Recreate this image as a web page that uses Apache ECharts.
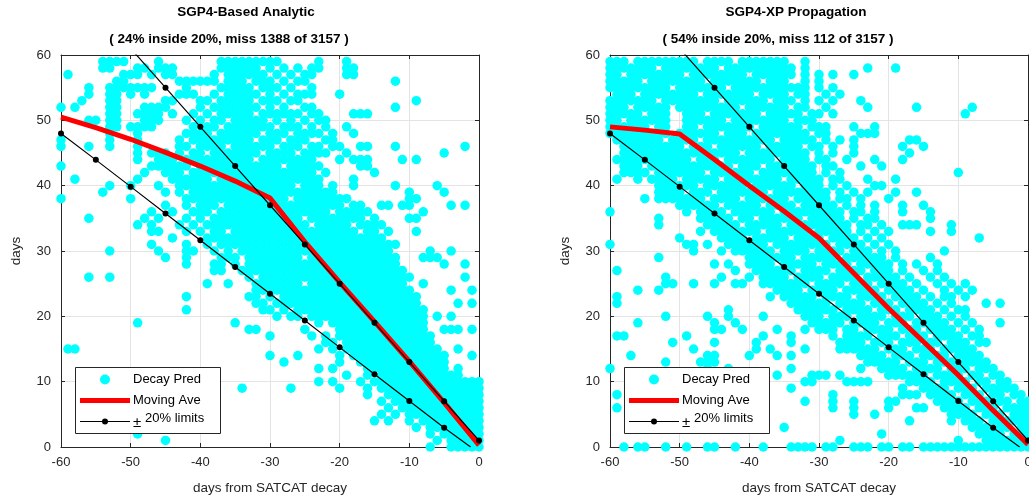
<!DOCTYPE html>
<html>
<head>
<meta charset="utf-8">
<script src="https://cdn.jsdelivr.net/npm/echarts@6/dist/echarts.min.js"></script>
<style>
  html, body { margin: 0; padding: 0; background: #ffffff; }
  #chart { width: 1029px; height: 497px; }
</style>
</head>
<body>
<div id="chart"></div>
<script>
// ---- panel text ----
const panelTitles = ['SGP4-Based Analytic', 'SGP4-XP Propagation'];
const panelStats = ['( 24% inside 20%, miss 1388 of 3157 )', '( 54% inside 20%, miss 112 of 3157 )'];
const seriesNames = ['Decay Pred', 'Moving Ave', '\u00b120% limits'];
const xAxisName = 'days from SATCAT decay';
const yAxisName = 'days';

// ---- axis ranges ----
const dayMin = -60, dayMax = 0, dayStep = 10;
const predMin = 0, predMax = 60, predStep = 10;

// ---- moving average of predicted lifetime (every 5 days) ----
const aveDays = [-60, -55, -50, -45, -40, -35, -30, -25, -20, -15, -10, -5, 0];
const aveAnalytic = [50.5, 48.9, 47.1, 45.1, 43.0, 40.7, 38.1, 31.4, 25.2, 19.2, 13.1, 6.8, 0.3];
const aveXP = [49.0, 48.5, 47.9, 44.0, 40.0, 36.1, 32.0, 26.6, 21.2, 16.1, 11.0, 5.6, 0.4];

// ---- +/-20% limit curves ----
const upperDays = [-60, -55, -50, -45, -40, -35, -30, -25, -20, -15, -10, -5, 0];
const upperLimit = [73, 67, 61, 55, 49, 43, 37, 31, 25, 19, 13, 7, 1];
const lowerDays = [-60, -55, -50, -45, -40, -35, -30, -25, -20, -15, -10, -5, -1.2];
const lowerLimit = [48, 43.95, 39.85, 35.75, 31.65, 27.55, 23.45, 19.35, 15.25, 11.15, 7.05, 2.95, 0];

// ---- decay predictions on the (day, days) integer lattice ----
// one string per predicted-days row, from 59 down to 0;
// one cell per day from -60 to 0, 'o' = at least one prediction
const predTopDays = 59;
const predFirstDay = -60;

const predAnalytic = [
  "......oooo|....o.....|...ooooooo|oo.....o..|.o........|..........|.",
  "......oo..|.oo.ooo...|...oooooo.|o.o.o.oo..|.oo.......|..........|.",
  ".o.......o|oo.o.oo...|..o.oooooo|.o.o.oo...|.oo.......|..........|.",
  "........oo|.......ooo|ooo.ooo.oo|o.o.oo....|........o.|..........|.",
  "....o..ooo|oooo....o.|...ooooo.o|oo.o..o...|..........|..........|.",
  "....o..oo.|o.o....ooo|..o.ooooo.|o.o.ooo...|o.........|..........|.",
  "...o...oo.|.....oo...|oo.ooooo.o|oo.oo.....|..........|.o........|.",
  "o.o....oo.|..oooo....|o.ooooooo.|o.o..oo...|........o.|..........|.",
  ".......oo.|.oooo.o..o|.o.ooooo.o|ooooo.oo..|..ooo.....|..........|.",
  "....oo.oo.|..ooo...o.|o.oo.ooooo|.o.o.o.oo.|..........|..........|.",
  ".......oo.|oooo.....o|.oo.oooooo|o.ooo.o.o.|.o........|..........|.",
  ".......o..|.o......oo|oo.oooooo.|ooo.oooo.o|..o.......|..........|.",
  "o......o..|.o.....o.o|oooooooo.o|oo.ooo..oo|..........|..........|.",
  "o...o..o..|.o.....oo.|oooo.ooooo|o.ooo.oo.o|o..oo...o.|........o.|.",
  "..........|.o.ooo.o.o|o.ooooooo.|oooo.oooo.|.o........|.....o....|.",
  "..........|.o..ooo.oo|oooooooo.o|ooooooo...|o.ooo....o|.o........|.",
  "o.........|...oooooo.|oooooooooo|oo.ooooo..|...oo.....|..........|.",
  "..........|..o..ooo.o|oooooooooo|ooooooo.o.|.....o....|..........|.",
  "..o.......|.o....oooo|oo.ooooooo|oooooooo..|..o.......|..........|.",
  ".......o..|o...o..ooo|oooooooooo|oooo.ooo.o|..o.....o.|....o.....|.",
  "......o...|.....o.o.o|oooooooooo|oooooooooo|..........|o....o....|.",
  "o.........|o.......oo|oooooooooo|ooo.oooooo|oo........|oo........|.",
  "..........|.....o..o.|ooo.oooooo|oooooooooo|o.oo..oo.o|o.....o.o.|.",
  "..........|...o..o..o|oo.ooooooo|ooooooooo.|ooooo.....|..o.......|.",
  "....o.....|..o.o...o.|o.oooooooo|ooooo.oooo|oooo.o....|oo........|.",
  "..........|.o.o...o.o|.ooooooooo|oooooo.ooo|oo.oooo...|..........|.",
  "..........|...oo...o.|o.oo.ooooo|oooooooooo|ooo.oo.o..|.o........|.",
  "..........|......o...|.ooooooooo|oooooooooo|ooooooo...|..........|.",
  "..........|...o....o.|.o.ooooooo|oooooooooo|ooooooooo.|..........|.",
  ".......o..|....o...oo|..o.o.oooo|oooooooooo|oooooooo..|...o..o...|.",
  "..........|.....o..o.|...ooo.ooo|ooooo.oooo|ooooooooo.|..ooo.....|.",
  "..........|........o.|..oo.o.ooo|oooooooooo|ooooooooo.|.....o..o.|.",
  "..........|..........|..oo..oooo|oooooooooo|oooooooooo|..........|.",
  "....o..o..|..........|.......o.o|oooooooooo|oooooooooo|o.......o.|.",
  "..........|..........|.o..o...oo|ooooo.oooo|oooooooooo|..o.......|.",
  "..........|..........|........oo|oooooooooo|oooooooooo|o.....o..o|.",
  "..........|........o.|.......oo.|o.oooooooo|oooooooooo|oo........|.",
  "..........|..........|........oo|.ooooooooo|oooooooooo|oo.....o.o|.",
  "..........|........o.|.........o|o.o.oooooo|oooooooooo|ooo.......|.",
  "..........|..........|..........|.o.oo.oooo|oooooooooo|ooo.o.o...|.",
  "..........|.o........|.....o....|.......o.o|oooooooooo|ooo.......|.",
  "..........|..........|.......oo.|.....o....|oooooooooo|ooo..ooo.o|.",
  "..........|..........|..........|o.....o.o.|oooooooooo|oooo......|.",
  "..........|..........|..........|........oo|.ooooooooo|oooo......|.",
  ".oo.......|..........|..........|.......o.o|.ooooooooo|ooooo..o..|.",
  "..........|..........|..........|o...o.....|o.oooooooo|oooooo...o|.",
  "..........|..........|..........|..o.......|o..ooooooo|oooooo....|.",
  "..........|..........|..........|.......o.o|....oooooo|oooooo.o..|.",
  "..........|..........|..........|..........|.o..o.oooo|oooooooo..|.",
  "..........|..........|..........|.......o.o|...o.ooooo|oooooooooo|o",
  "..........|..........|......o...|...o......|o...o.oooo|oooooooooo|o",
  "..........|..........|..........|..........|....o..ooo|oooooooooo|o",
  "..........|..........|..........|..........|......o.oo|oooooooooo|o",
  "..........|..........|..........|..........|.......o.o|oooooooooo|o",
  "..........|..........|..........|..........|......o.o.|oooooooooo|o",
  "..........|..........|..........|..........|.....o.o..|o.oooooooo|o",
  "..........|..........|..........|..........|..........|.o.ooooooo|o",
  "..........|.o........|..........|..........|..........|...o.ooooo|o",
  "..........|.....o....|..........|..........|..........|....o.oooo|o",
  "..........|..........|..........|..........|..........|...o..oooo|o"
];

const predXP = [
  "ooo.oooooo|ooo.oooo.o|oooooo..o.|..........|..........|..........|.",
  "ooooooo.oo|oooooo.ooo|ooooooo.o.|.......o..|.o........|..........|.",
  "oo.ooooooo|o.oooooooo|.oooooo.o.|o.o..o....|..........|..........|.",
  "ooooo.oooo|oooo.ooooo|oo.ooo..o.|o.........|..........|..........|.",
  "ooooooooo.|ooooooo.oo|ooooooooo.|o.o.......|..........|..........|.",
  ".ooo.ooooo|ooo.oooooo|o.oooo.oo.|.o.o......|..........|..........|.",
  "ooooooo.oo|oooooo.ooo|ooo.ooo.o.|o.o...o...|..........|..........|.",
  "ooo.ooooo.|ooooooooo.|oooooo.oo.|.o.....o..|....o.....|..o.......|.",
  "ooooo.ooo.|.ooo.ooooo|oo.ooooo.o|o.o.......|..........|.o........|.",
  "oo.oooooo.|.oooooo.oo|oooooo.ooo|..........|..........|..........|.",
  "oooooo.oo.|.oo.oooooo|o.oooooo.o|oo...o..o.|..........|..........|.",
  "ooooooooo.|oooooo.ooo|.oooooooo.|oo....ooo.|..........|..........|.",
  ".ooooooo.o|ooo.oooooo|oooo.ooooo|.o.o.o....|...oo.....|..........|.",
  "..oooooooo|o.ooo.oooo|oo.ooooo.o|o.o..o....|..o..o....|..........|.",
  "..oooooooo|ooooooooo.|ooooooooo.|o.o..o....|...o......|..........|.",
  ".ooooooooo|oo.ooo.ooo|oooo.oooo.|oo..o...o.|..o.......|..........|.",
  "..ooo.oooo|oooooooo.o|oo.ooooooo|.oo...o..o|..........|..........|.",
  "..oooo.ooo|oooo.ooooo|o.oooooooo|.o.o......|..........|o.........|.",
  ".o..o.oooo|.ooooo.ooo|ooooo.oooo|o.oo...o..|.o........|..........|.",
  ".......ooo|ooo.oooooo|.oooooo.oo|o.o.o...oo|..........|..........|.",
  ".......ooo|o.ooo.oooo|ooo.oooooo|oo.o.o.o..|.o..o.....|..........|.",
  ".....o.ooo|oooo.oooo.|oooooo.ooo|oo.oo.o...|o.........|..........|.",
  "..........|oooooo.ooo|oo.oooo.oo|ooo.o.o.o.|..o..o....|..........|.",
  "o.........|.o.oooo.oo|oooo.ooooo|oooo.oo.o.|..o...o...|..........|.",
  ".......o..|...ooooo.o|o.oooooo.o|oooo.o.oo.|......o...|..........|.",
  ".......o..|....ooooo.|ooooo.oooo|ooooo.oo.o|..ooo....o|..........|.",
  "..........|...o.ooooo|oo.oooooo.|ooooo.o.o.|o.....o..o|..........|.",
  "..........|o.....oooo|.ooooo.ooo|o.oooo.o.o|..........|...o......|.",
  "o.........|.oo.o..ooo|ooo.oooooo|oo.oooo.o.|o.........|..........|.",
  "..........|..o...o.oo|oooo.oooo.|oooo.ooo.o|.o......o.|..........|.",
  ".......o..|..........|ooooooo.oo|ooo.oooooo|.o....o...|..........|.",
  "..........|.....o.o..|oooo.ooooo|.oooo.oooo|o.o.o..o..|..........|.",
  ".o........|........o.|.oooooo.oo|oo.oooo.oo|o.o..o.o..|..........|.",
  "........o.|......o...|o.oooo.ooo|o.oooo.ooo|oo.o..o.o.|..........|.",
  "........oo|..o..o..oo|..ooooooo.|oooo.ooo.o|ooo.o..o.o|.o........|.",
  "....o..o..|..........|....oooo.o|ooo.ooooo.|oooo.o..o.|o.o.......|.",
  ".o........|..........|...o.ooooo|.oooo.oooo|.oooo.o.oo|.o........|.",
  ".o........|..........|......oooo|oo.oooo.oo|o.oooo.o.o|....o.o...|.",
  "..........|.......o..|.......ooo|ooo.oooo.o|oo.oooo.o.|oo........|.",
  "........o.|....o..o..|..o.....oo|o.ooo.oooo|.ooo.ooo.o|.o........|.",
  "....o.....|.....o..o.|.........o|oooo.oooo.|ooo.ooooo.|o.o...o...|.",
  "..........|.....oo..o|....o...o.|ooo.oo.ooo|o.ooo.oooo|.o.o......|.",
  ".oo.......|.o........|..o...o...|..o.oooo.o|oo.ooo.ooo|o.oo......|.",
  ".........o|.....o....|.o....o...|...oooo.oo|o.ooo.oo.o|oo.oo.....|.",
  "..........|..o.......|.o.o....o.|...oooooo.|ooo.ooo.oo|ooo.......|.",
  "...o......|....oo....|o...o.o...|......oooo|.ooo.oooo.|oooo......|.",
  "........o.|...ooo....|..........|.......ooo|oo.ooo.ooo|.oooo.....|.",
  "o.........|....o..o..|......o...|......o..o|ooo.oooo.o|oo.ooo....|.",
  "..........|..........|....o....o|oo.o......|oooooo.ooo|o.oo.oo...|.",
  "..........|..........|........oo|....oooo..|...oooo.oo|oo.oo.oo..|.",
  "..........|..........|......o...|..........|..o..oooo.|ooo.ooooo.|.",
  ".o........|..........|..........|..o.......|..ooo.oooo|.ooo.oo.oo|.",
  "..........|..........|........o.|..o..o....|oo.....ooo|o.ooo.oo.o|o",
  ".o........|..........|..........|..o..o....|o...oo..oo|oo.ooo.ooo|o",
  "..........|..........|..........|.....o..o.|.........o|ooo.ooo.oo|o",
  "..........|..........|..........|..........|...o.....o|.ooo.ooooo|o",
  "..........|..........|.....o....|..........|..........|..ooo.oo.o|o",
  "..........|..........|..........|.........o|..........|...oooo.oo|o",
  "..........|..........|..........|...o......|..........|o...oooooo|o",
  "..o.oo..o.|.o..oo..o.|..o...oooo|.oo..ooo.o|o.oo.ooooo|oooooooooo|o"
];

// ---- helpers ----
function latticePoints(rows) {
  const pts = [];
  rows.forEach((row, i) => {
    const cells = row.replace(/\|/g, '');
    if (cells.length !== 61) throw new Error('row ' + i + ' has ' + cells.length + ' cells');
    for (let c = 0; c < cells.length; c++) {
      if (cells[c] === 'o') pts.push([predFirstDay + c, predTopDays - i]);
    }
  });
  return pts;
}
function pairs(xs, ys) { return xs.map((x, i) => [x, ys[i]]); }

const FONT = '"Liberation Sans", Arial, Helvetica, sans-serif';
const INK = '#262626';
const GRID_LINE = '#e4e4e4';
const CYAN = '#00ffff';
const RED = '#ff0000';
const KEY_Z = 100;

const gridLefts = [61, 610];
const gridTop = 55, gridW = 418, gridH = 392;
const titleCenters = [246, 796];
const statCenters = [229, 778];
const legendBoxes = [{ x: 75, y: 367 }, { x: 624, y: 367 }];

const grids = [], xAxes = [], yAxes = [], series = [], graphics = [];
const predSets = [latticePoints(predAnalytic), latticePoints(predXP)];
const aveSets = [aveAnalytic, aveXP];

// legend key drawn as a framed box in the lower-left of each panel
function legendKey(box) {
  const x = box.x, y = box.y;
  const txt = (t, tx, ty, size) => ({
    type: 'text', x: tx, y: ty, z: KEY_Z + 2, silent: true,
    style: { text: t, fill: '#000', font: size + 'px ' + FONT, textAlign: 'left', textVerticalAlign: 'middle' }
  });
  return [
    { type: 'rect', z: KEY_Z, silent: true,
      shape: { x: x + 0.5, y: y + 0.5, width: 145, height: 66 },
      style: { fill: '#ffffff', stroke: INK, lineWidth: 1 } },
    { type: 'circle', z: KEY_Z + 1, silent: true,
      shape: { cx: x + 30, cy: y + 12.5, r: 5 }, style: { fill: CYAN } },
    { type: 'line', z: KEY_Z + 1, silent: true,
      shape: { x1: x + 5, y1: y + 33.5, x2: x + 55, y2: y + 33.5 },
      style: { stroke: RED, lineWidth: 5 } },
    { type: 'line', z: KEY_Z + 1, silent: true,
      shape: { x1: x + 5, y1: y + 54.5, x2: x + 55, y2: y + 54.5 },
      style: { stroke: '#000', lineWidth: 1.2 } },
    { type: 'circle', z: KEY_Z + 2, silent: true,
      shape: { cx: x + 30, cy: y + 54.5, r: 3 }, style: { fill: '#000' } },
    txt(seriesNames[0], x + 58, y + 12, 13),
    txt(seriesNames[1], x + 58, y + 33, 13),
    txt(seriesNames[2].charAt(0), x + 58, y + 56, 15),
    txt(seriesNames[2].slice(1), x + 70, y + 51, 13)
  ];
}

for (let g = 0; g < 2; g++) {
  grids.push({ left: gridLefts[g], top: gridTop, width: gridW, height: gridH,
               containLabel: false, outerBoundsMode: 'none' });

  const axisLine = { show: true, onZero: false, lineStyle: { color: INK, width: 1 } };
  const tick = { show: true, inside: true, length: 4, lineStyle: { color: INK, width: 1 } };

  xAxes.push({
    gridIndex: g, type: 'value', position: 'bottom', min: dayMin, max: dayMax, interval: dayStep,
    axisLine, axisTick: tick,
    axisLabel: { color: INK, fontSize: 13, fontFamily: FONT, margin: 9 },
    splitLine: { show: true, lineStyle: { color: GRID_LINE, width: 1 } },
    name: xAxisName, nameLocation: 'middle', nameGap: 34,
    nameTextStyle: { color: INK, fontSize: 13.5, fontFamily: FONT }
  });
  xAxes.push({
    gridIndex: g, type: 'value', position: 'top', min: dayMin, max: dayMax, interval: dayStep,
    axisLine, axisTick: tick, axisLabel: { show: false }, splitLine: { show: false }
  });
  yAxes.push({
    gridIndex: g, type: 'value', position: 'left', min: predMin, max: predMax, interval: predStep,
    axisLine, axisTick: tick,
    axisLabel: { color: INK, fontSize: 13, fontFamily: FONT, margin: 10 },
    splitLine: { show: true, lineStyle: { color: GRID_LINE, width: 1 } },
    name: yAxisName, nameLocation: 'middle', nameGap: 38, nameRotate: 90,
    nameTextStyle: { color: INK, fontSize: 13.5, fontFamily: FONT }
  });
  yAxes.push({
    gridIndex: g, type: 'value', position: 'right', min: predMin, max: predMax, interval: predStep,
    axisLine, axisTick: tick, axisLabel: { show: false }, splitLine: { show: false }
  });

  const xi = g * 2, yi = g * 2;
  series.push({
    name: seriesNames[0], type: 'scatter', xAxisIndex: xi, yAxisIndex: yi,
    data: predSets[g], symbol: 'circle', symbolSize: 9.5,
    itemStyle: { color: CYAN, opacity: 1 }, silent: true, z: 2
  });
  series.push({
    name: seriesNames[1], type: 'line', xAxisIndex: xi, yAxisIndex: yi,
    data: pairs(aveDays, aveSets[g]), symbol: 'none', smooth: false,
    lineStyle: { color: RED, width: 5 }, itemStyle: { color: RED },
    silent: true, z: 3
  });
  series.push({
    name: seriesNames[2], type: 'line', xAxisIndex: xi, yAxisIndex: yi, clip: true,
    data: pairs(upperDays, upperLimit), symbol: 'circle', symbolSize: 6,
    lineStyle: { color: '#000000', width: 1.2 }, itemStyle: { color: '#000000' },
    silent: true, z: 4
  });
  const lowerData = pairs(lowerDays, lowerLimit).map((p, i, arr) =>
    i === arr.length - 1 ? { value: p, symbol: 'none' } : p);
  series.push({
    name: seriesNames[2], type: 'line', xAxisIndex: xi, yAxisIndex: yi, clip: true,
    data: lowerData, symbol: 'circle', symbolSize: 6,
    lineStyle: { color: '#000000', width: 1.2 }, itemStyle: { color: '#000000' },
    silent: true, z: 4
  });

  graphics.push(...legendKey(legendBoxes[g]));
  graphics.push({
    type: 'text', x: titleCenters[g], y: 12, z: 20,
    style: { text: panelTitles[g], fill: '#000', font: 'bold 13.5px ' + FONT,
             textAlign: 'center', textVerticalAlign: 'middle' }
  });
  graphics.push({
    type: 'text', x: statCenters[g], y: 39, z: 20,
    style: { text: panelStats[g], fill: '#000', font: 'bold 13.5px ' + FONT,
             textAlign: 'center', textVerticalAlign: 'middle' }
  });
}

const chart = echarts.init(document.getElementById('chart'), null, { renderer: 'canvas' });
chart.setOption({
  animation: false,
  backgroundColor: '#ffffff',
  grid: grids,
  xAxis: xAxes,
  yAxis: yAxes,
  graphic: graphics,
  series: series
});
</script>
</body>
</html>
